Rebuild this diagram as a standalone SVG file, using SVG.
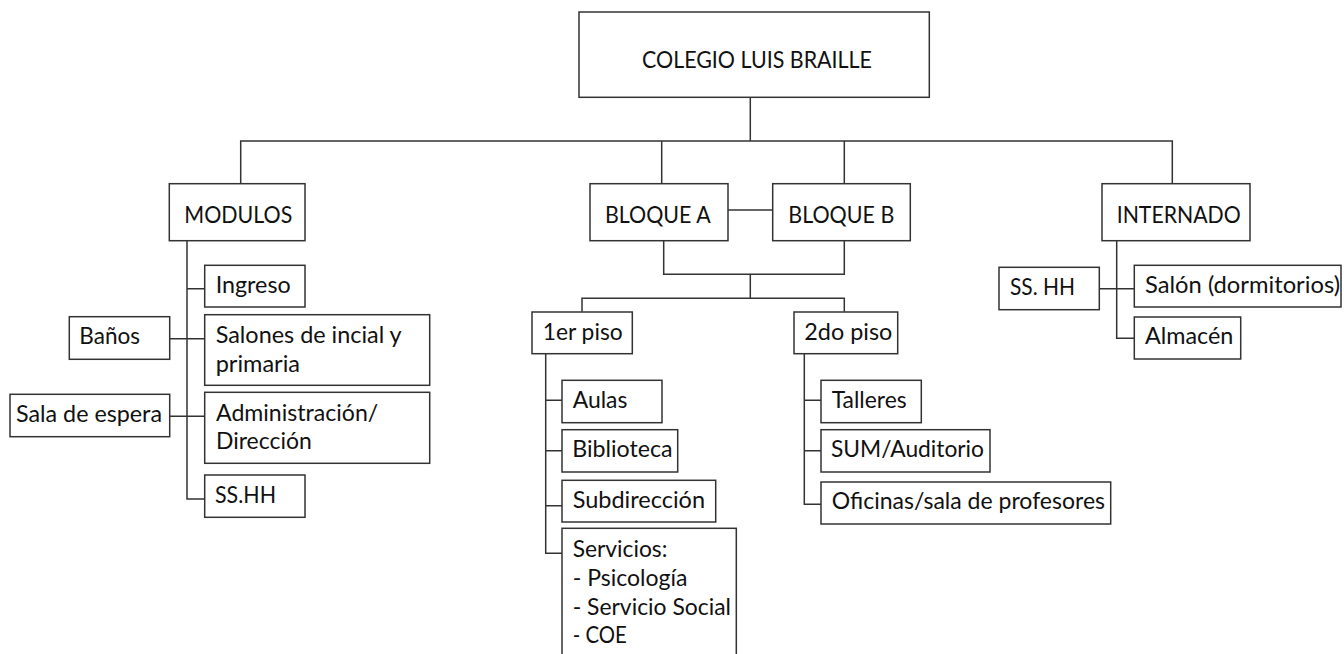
<svg xmlns="http://www.w3.org/2000/svg" width="1344" height="654" viewBox="0 0 1344 654">
<style>
.b{fill:#fff;stroke:#333;stroke-width:1.5}
.c{fill:none;stroke:#333;stroke-width:1.5}
text{font-family:Lato,"Open Sans",sans-serif;font-size:23px;fill:#111}
</style>
<rect width="1344" height="654" fill="#fff"/>
<g id="connectors" class="c">
<path d="M750.3,97.3V141M240.7,183.7V141H1172.3V183.7M661.7,141V183.7M844.3,141V183.7"/>
<path d="M728,210H772.7"/>
<path d="M663.7,240.7V274.3H844.3V240.7M750.3,274.3V298.3M582,311.7V298.3H844.3V311.7"/>
<path d="M187,240.7V499H204.7M187,288.7H204.7M169.7,338.7H204.7M169.7,416.3H204.7"/>
<path d="M545.7,353.7V553.3H562M545.7,400.3H562M545.7,450.7H562M545.7,505.7H562"/>
<path d="M804.3,353.7V504.3H821M804.3,400.3H821M804.3,450.7H821"/>
<path d="M1116.7,240.7V338.3H1134.3M1099.3,288.7H1134.3"/>
</g>
<g id="n-colegio"><rect class="b" x="579" y="12" width="350.3" height="85.3"/><text x="642" y="68.3" textLength="230" lengthAdjust="spacingAndGlyphs">COLEGIO LUIS BRAILLE</text></g>
<g id="n-modulos"><rect class="b" x="169.3" y="183.7" width="135.7" height="57"/><text x="184.3" y="222.7" textLength="108" lengthAdjust="spacingAndGlyphs">MODULOS</text></g>
<g id="n-bloquea"><rect class="b" x="590" y="183.7" width="138" height="57"/><text x="605" y="222.7" textLength="105.7" lengthAdjust="spacingAndGlyphs">BLOQUE A</text></g>
<g id="n-bloqueb"><rect class="b" x="772.7" y="183.7" width="137.6" height="57"/><text x="788.3" y="222.7" textLength="106" lengthAdjust="spacingAndGlyphs">BLOQUE B</text></g>
<g id="n-internado"><rect class="b" x="1102" y="183.7" width="148" height="57"/><text x="1116.7" y="222.7" textLength="124" lengthAdjust="spacingAndGlyphs">INTERNADO</text></g>
<g id="n-ingreso"><rect class="b" x="204.7" y="265.3" width="100.3" height="41.7"/><text x="215.7" y="293.3" textLength="75" lengthAdjust="spacingAndGlyphs">Ingreso</text></g>
<g id="n-salones"><rect class="b" x="204.7" y="314.7" width="225" height="70.6"/><text x="215.7" y="343.3" textLength="186" lengthAdjust="spacingAndGlyphs">Salones de incial y</text><text x="215.7" y="371.7" textLength="84.3" lengthAdjust="spacingAndGlyphs">primaria</text></g>
<g id="n-banos"><rect class="b" x="69.3" y="316.7" width="100.4" height="42.6"/><text x="79.3" y="344" textLength="60.7" lengthAdjust="spacingAndGlyphs">Baños</text></g>
<g id="n-admin"><rect class="b" x="204.7" y="392.3" width="225" height="71"/><text x="216" y="421" textLength="162.3" lengthAdjust="spacingAndGlyphs">Administración/</text><text x="216" y="449" textLength="95.7" lengthAdjust="spacingAndGlyphs">Dirección</text></g>
<g id="n-sala"><rect class="b" x="10" y="394.3" width="159.7" height="42.4"/><text x="16" y="422" textLength="146" lengthAdjust="spacingAndGlyphs">Sala de espera</text></g>
<g id="n-sshh1"><rect class="b" x="204.7" y="475" width="100.3" height="42.3"/><text x="215" y="502.7" textLength="61" lengthAdjust="spacingAndGlyphs">SS.HH</text></g>
<g id="n-piso1"><rect class="b" x="532" y="312" width="100.3" height="41.7"/><text x="542.7" y="340" textLength="80" lengthAdjust="spacingAndGlyphs">1er piso</text></g>
<g id="n-piso2"><rect class="b" x="794" y="312" width="103.7" height="41.7"/><text x="804.3" y="340" textLength="88" lengthAdjust="spacingAndGlyphs">2do piso</text></g>
<g id="n-aulas"><rect class="b" x="562" y="380.3" width="100" height="42.4"/><text x="572.7" y="408.3" textLength="54.7" lengthAdjust="spacingAndGlyphs">Aulas</text></g>
<g id="n-biblio"><rect class="b" x="562" y="429.7" width="115.7" height="42.3"/><text x="572.3" y="457.3" textLength="100.3" lengthAdjust="spacingAndGlyphs">Biblioteca</text></g>
<g id="n-subdir"><rect class="b" x="562" y="480.3" width="153.7" height="41.7"/><text x="572.7" y="508" textLength="132.3" lengthAdjust="spacingAndGlyphs">Subdirección</text></g>
<g id="n-servicios"><rect class="b" x="562" y="528.3" width="174.3" height="140"/><text x="572.7" y="556.7" textLength="94.7" lengthAdjust="spacingAndGlyphs">Servicios:</text><text x="572.7" y="586" textLength="114.7" lengthAdjust="spacingAndGlyphs">- Psicología</text><text x="572.7" y="614.7" textLength="158.3" lengthAdjust="spacingAndGlyphs">- Servicio Social</text><text x="572.7" y="643.3" textLength="54" lengthAdjust="spacingAndGlyphs">- COE</text></g>
<g id="n-talleres"><rect class="b" x="821" y="380.3" width="100.3" height="42.4"/><text x="831.7" y="408.3" textLength="75" lengthAdjust="spacingAndGlyphs">Talleres</text></g>
<g id="n-sum"><rect class="b" x="821" y="429.7" width="169" height="42.3"/><text x="831" y="457.3" textLength="153" lengthAdjust="spacingAndGlyphs">SUM/Auditorio</text></g>
<g id="n-oficinas"><rect class="b" x="821" y="482" width="289.7" height="42"/><text x="831.7" y="509.3" textLength="273.3" lengthAdjust="spacingAndGlyphs">Oficinas/sala de profesores</text></g>
<g id="n-sshh2"><rect class="b" x="999" y="267.3" width="100.3" height="42.4"/><text x="1010" y="295" textLength="65" lengthAdjust="spacingAndGlyphs">SS. HH</text></g>
<g id="n-salon"><rect class="b" x="1134.3" y="265.3" width="206.7" height="41.7"/><text x="1145" y="293.3" textLength="195" lengthAdjust="spacingAndGlyphs">Salón (dormitorios)</text></g>
<g id="n-almacen"><rect class="b" x="1134.3" y="317" width="106.4" height="42"/><text x="1145" y="344" textLength="88.3" lengthAdjust="spacingAndGlyphs">Almacén</text></g>
</svg>
